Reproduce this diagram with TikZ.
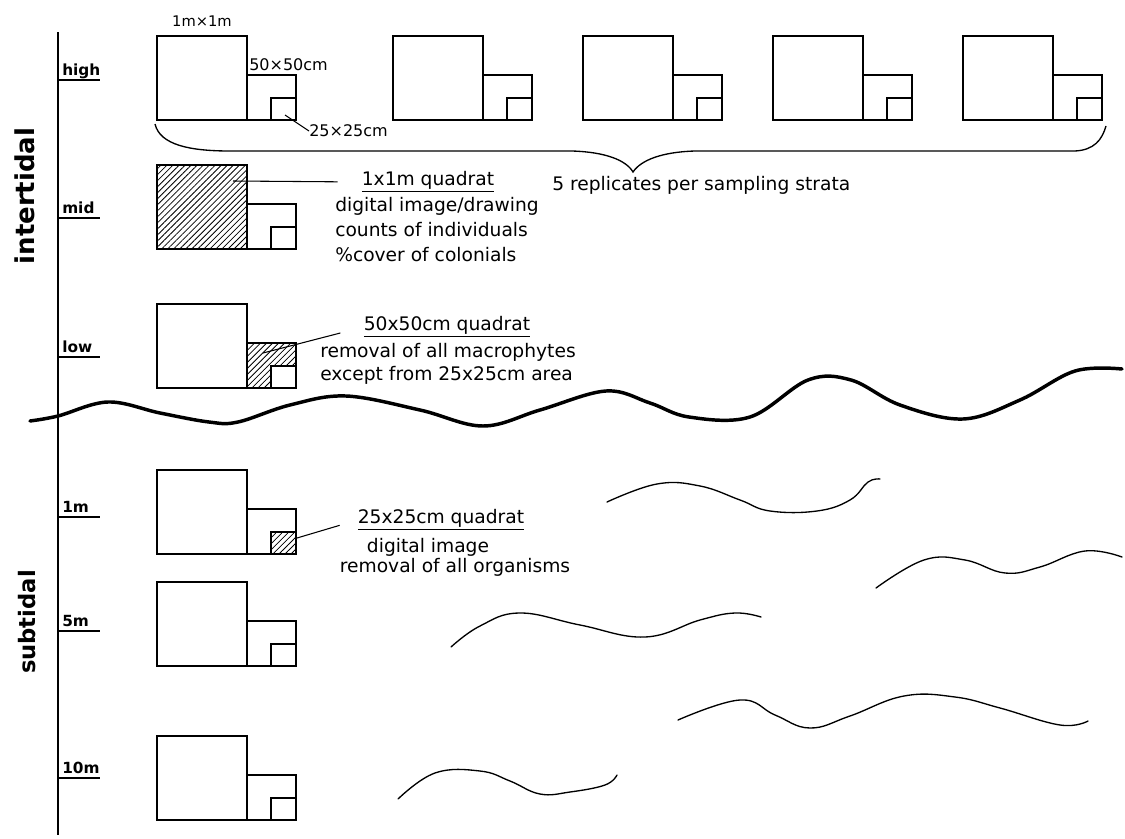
\documentclass[tikz,border=0pt]{standalone}
\usepackage{fontspec}
\setmainfont{DejaVu Sans}
\usetikzlibrary{positioning,patterns.meta}

\begin{document}
\begin{tikzpicture}[
  x=0.75pt, y=-0.75pt,
  quad/.style={line width=1.2pt},
  hatch/.style={pattern={Lines[angle=45,distance=3.2pt,line width=0.6pt]}},
  level/.style={font=\fontsize{11.5}{13}\selectfont\bfseries, inner sep=0pt, anchor=base west},
  zone/.style={font=\fontsize{17}{20}\selectfont\bfseries, rotate=90, inner sep=0pt},
  note/.style={font=\fontsize{14}{18}\selectfont, inner sep=0pt},
  size/.style={font=\fontsize{12}{14}\selectfont, inner sep=0pt},
  lead/.style={line width=0.8pt},
  weed/.style={line width=1pt, line cap=round, line join=round},
  shore/.style={line width=2.6pt, line cap=round, line join=round},
]
  % Canvas
  \fill[white] (0,0) rectangle (1125,839);
  \useasboundingbox (0,0) rectangle (1125,839);

  % Depth axis
  \draw[line width=1.1pt] (58,32) -- (58,835);
  \foreach \t/\name in {80/high, 218/mid, 357/low, 517/1m, 631/5m, 778/10m} {
    \draw[line width=1.1pt] (58,\t) -- (100,\t);
    \node[level] at (62,{\t-5}) {\name};
  }
  \node[zone, font=\fontsize{19.5}{22}\selectfont\bfseries] (inter) at (25,196) {intertidal};
  \node[zone] (sub) at (27,622) {subtidal};

  % Hatched areas
  \fill[hatch] (157,165) rectangle (247,249);
  \fill[hatch] (247,343) rectangle (296,388);
  \fill[white] (271,366) rectangle (296,388);
  \fill[hatch] (271,532) rectangle (296,554);

  % Quadrats, one set per stratum
  \foreach \b in {120,249,388,554,666,820} {
    \draw[quad] (157,\b) rectangle (247,{\b-84});
    \draw[quad] (247,\b) rectangle (296,{\b-45});
    \draw[quad] (271,\b) rectangle (296,{\b-22});
  }
  % Replicates in the high stratum
  \foreach \x in {393,583,773,963} {
    \draw[quad] (\x,120) rectangle ({\x+90},36);
    \draw[quad] ({\x+90},120) rectangle ({\x+139},75);
    \draw[quad] ({\x+114},120) rectangle ({\x+139},98);
  }

  % Size labels
  \node[size, font=\fontsize{11}{13}\selectfont] (onem) at (202,21) {1m×1m};
  \node[size, anchor=west] (fifty) at (249,65) {50×50cm};
  \node[size, anchor=west] (quarter) at (309,131) {25×25cm};
  \coordinate (smallhigh) at (285,115);
  \draw[lead] (smallhigh) -- (quarter.west);

  % Brace over replicates
  \draw[line width=1pt] (155,124) .. controls (160,145) and (190,151) .. (230,151)
    -- (572,151) .. controls (605,152) and (626,160) .. (633,172)
    .. controls (641,160) and (662,152) .. (695,151)
    -- (1075,151) .. controls (1094,150) and (1102,140) .. (1106,126);
  \node[note, anchor=west] (repl) at (552,185) {5 replicates per sampling strata};

  % Mid: 1x1m quadrat
  \coordinate (hatchbig) at (233,181);
  \node[note] (midtitle) at (428,182) {\underline{1x1m quadrat}};
  \node[note, align=left, anchor=west, font=\fontsize{14}{18.75}\selectfont] (midtext) at (335,230)
    {digital image/drawing\\counts of individuals\\\%cover of colonials};
  \draw[lead, shorten >=18] (hatchbig) -- (midtitle.west);

  % Low: 50x50cm quadrat
  \coordinate (hatchmed) at (263,353);
  \node[note] (lowtitle) at (447,327) {\underline{50x50cm quadrat}};
  \node[note, align=left, anchor=west, font=\fontsize{14}{17.25}\selectfont] (lowtext) at (320,364)
    {removal of all macrophytes\\except from 25x25cm area};
  \draw[lead, shorten >=18] (hatchmed) -- (lowtitle.west);

  % 1m: 25x25cm quadrat
  \coordinate (hatchsmall) at (297,538);
  \node[note] (subtitle) at (441,520) {\underline{25x25cm quadrat}};
  \node[note] (subtext1) at (428,547) {digital image};
  \node[note] (subtext2) at (455,567) {removal of all organisms};
  \draw[lead, shorten >=14] (hatchsmall) -- (subtitle.west);

  % Low water line
  \draw[shore] plot[smooth, tension=0.6] coordinates {(30,421) (58,416) (108,402) (160,413)
    (209,422) (238,422) (290,405) (346,396) (420,410) (483,426) (540,410) (606,391)
    (650,403) (689,417) (750,417) (808,380) (851,380) (900,405) (963,419) (1020,400)
    (1075,371) (1122,369)};

  % Waves below the surface
  \draw[weed] plot[smooth, tension=0.7] coordinates {(607,502) (657,484) (700,486)
    (740,500) (770,511) (817,511) (850,500) (868,482) (880,479)};
  \draw[weed] plot[smooth, tension=0.7] coordinates {(876,588) (924,560) (965,560)
    (1005,573) (1040,567) (1085,551) (1122,557)};
  \draw[weed] plot[smooth, tension=0.7] coordinates {(451,647) (480,626) (520,613)
    (580,625) (645,637) (700,620) (735,613) (761,617)};
  \draw[weed] plot[smooth, tension=0.7] coordinates {(678,720) (740,700) (775,715)
    (810,728) (850,716) (904,696) (955,697) (1000,708) (1060,725) (1088,721)};
  \draw[weed] plot[smooth, tension=0.7] coordinates {(398,799) (435,773) (480,771)
    (510,781) (540,794) (570,792) (605,785) (617,775)};
\end{tikzpicture}
\end{document}
